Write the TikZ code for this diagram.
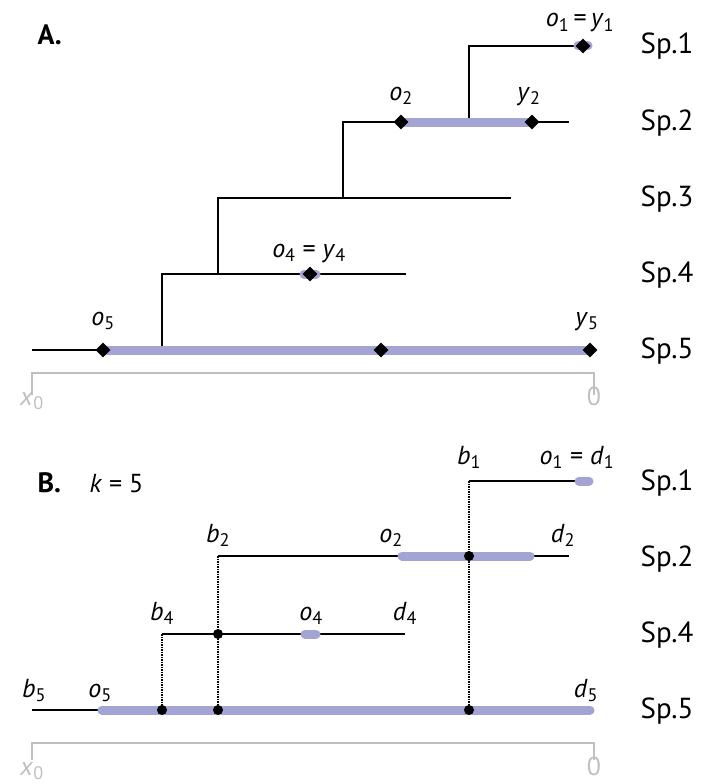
\documentclass[tikz,border=0pt]{standalone}
\usepackage{fontspec}
\setmainfont{PT Sans}
\usetikzlibrary{positioning,shapes.geometric}
\definecolor{rangeblue}{RGB}{163,163,212}
\definecolor{axisgray}{RGB}{192,192,192}
\newcommand{\vr}[2]{\textit{#1}\textsubscript{#2}}

\begin{document}
\begin{tikzpicture}[x=1pt,y=-1pt,font=\fontsize{26}{30}\selectfont,
  branch/.style={line width=1.5pt},
  rangebar/.style={rangeblue,line width=9pt},
  obs/.style={diamond,fill=black,inner sep=0pt,minimum size=15pt},
  event/.style={circle,fill=black,inner sep=0pt,minimum size=10pt},
  link/.style={densely dotted,line width=1.5pt},
  timeaxis/.style={axisgray,line width=2.5pt},
  splab/.style={anchor=base,font=\fontsize{29}{33}\selectfont},
  panel/.style={anchor=base west,font=\bfseries\fontsize{28}{32}\selectfont},
  vlab/.style={anchor=base},
  axlab/.style={anchor=base,axisgray}]
\useasboundingbox (0,0) rectangle (701,784);
% panel A
\node[panel] (panA) at (34,45) {A.};
\coordinate (a1s) at (469,46);\coordinate (a1e) at (583,46);
\coordinate (a2s) at (343,122);\coordinate (a2e) at (569,122);
\coordinate (a3s) at (218,198);\coordinate (a3e) at (511,198);
\coordinate (a4s) at (162,274);\coordinate (a4e) at (406,274);
\coordinate (a5s) at (32,350);\coordinate (a5e) at (590,350);
\draw[branch] (a1e) -- (a1s) -- (a1s |- a2s);
\draw[branch] (a2e) -- (a2s) -- (a2s |- a3s);
\draw[branch] (a3e) -- (a3s) -- (a3s |- a4s);
\draw[branch] (a4e) -- (a4s) -- (a4s |- a5s);
\draw[branch] (a5s) -- (a5e);
\draw[rangebar,line cap=round] (578,46) -- (588,46);
\draw[rangebar] (401,122) -- (532,122);
\draw[rangebar,line cap=round] (304,274) -- (316,274);
\draw[rangebar] (103,350) -- (a5e);
\node[obs] (o1A) at (a1e) {};
\node[obs] (o2A) at (401,122) {};
\node[obs] (y2A) at (532,122) {};
\node[obs] (o4A) at (310,274) {};
\node[obs] (o5A) at (103,350) {};
\node[obs] (m5A) at (381,350) {};
\node[obs] (y5A) at (a5e) {};
\node[vlab] (lo1A) at (580,27) {\vr{o}{1}\,=\,\vr{y}{1}};
\node[vlab] (lo2A) at (401,100) {\vr{o}{2}};
\node[vlab] (ly2A) at (529,100) {\vr{y}{2}};
\node[vlab] (lo4A) at (309,257) {\vr{o}{4} = \vr{y}{4}};
\node[vlab] (lo5A) at (103,325) {\vr{o}{5}};
\node[vlab] (ly5A) at (587,325) {\vr{y}{5}};
\node[splab] (sp1A) at (667,54) {Sp.1};
\node[splab] (sp2A) at (667,130) {Sp.2};
\node[splab] (sp3A) at (667,206) {Sp.3};
\node[splab] (sp4A) at (667,282) {Sp.4};
\node[splab] (sp5A) at (667,358) {Sp.5};
\coordinate (axAl) at (32,373);\coordinate (axAr) at (594,373);
\draw[timeaxis] (32,395) -- (axAl) -- (axAr) -- (594,395);
\node[axlab] (x0A) at (32,405) {\vr{x}{0}};
\node[axlab] (zeroA) at (594,405) {0};
% panel B
\node[panel] (panB) at (34,492) {B.};
\node[anchor=base west] (kB) at (86,492) {\textit{k} = 5};
\coordinate (b1s) at (469,481);\coordinate (b1e) at (581,481);
\coordinate (b2s) at (218,556);\coordinate (b2e) at (569,556);
\coordinate (b4s) at (162,634);\coordinate (b4e) at (405,634);
\coordinate (b5s) at (32,710);\coordinate (b5e) at (594,710);
\draw[branch] (b1s) -- (b1e);
\draw[branch] (b2s) -- (b2e);
\draw[branch] (b4s) -- (b4e);
\draw[branch] (b5s) -- (b5e);
\draw[link] (b1s) -- (b1s |- b5s);
\draw[link] (b2s) -- (b2s |- b5s);
\draw[link] (b4s) -- (b4s |- b5s);
\draw[rangebar,line cap=round] (579,481) -- (589,481);
\draw[rangebar,line cap=round] (402,556) -- (530,556);
\draw[rangebar,line cap=round] (305,634) -- (316,634);
\draw[rangebar,line cap=round] (102,710) -- (590,710);
\node[event] (e12) at (b1s |- b2s) {};
\node[event] (e24) at (b2s |- b4s) {};
\node[event] (e45) at (b4s |- b5s) {};
\node[event] (e25) at (b2s |- b5s) {};
\node[event] (e15) at (b1s |- b5s) {};
\node[vlab] (lb1) at (469,464) {\vr{b}{1}};
\node[vlab] (lo1B) at (577,464) {\vr{o}{1} = \vr{d}{1}};
\node[vlab] (lb2) at (218,542) {\vr{b}{2}};
\node[vlab] (lo2B) at (391,542) {\vr{o}{2}};
\node[vlab] (ld2) at (563,542) {\vr{d}{2}};
\node[vlab] (lb4) at (162,620) {\vr{b}{4}};
\node[vlab] (lo4B) at (311,620) {\vr{o}{4}};
\node[vlab] (ld4) at (405,620) {\vr{d}{4}};
\node[vlab] (lb5) at (34,697) {\vr{b}{5}};
\node[vlab] (lo5B) at (100,697) {\vr{o}{5}};
\node[vlab] (ld5) at (586,697) {\vr{d}{5}};
\node[splab] (sp1B) at (667,490) {Sp.1};
\node[splab] (sp2B) at (667,566) {Sp.2};
\node[splab] (sp4B) at (667,642) {Sp.4};
\node[splab] (sp5B) at (667,718) {Sp.5};
\coordinate (axBl) at (32,743);\coordinate (axBr) at (594,743);
\draw[timeaxis] (32,760) -- (axBl) -- (axBr) -- (594,760);
\node[axlab] (x0B) at (32,775) {\vr{x}{0}};
\node[axlab] (zeroB) at (594,775) {0};
\end{tikzpicture}
\end{document}
